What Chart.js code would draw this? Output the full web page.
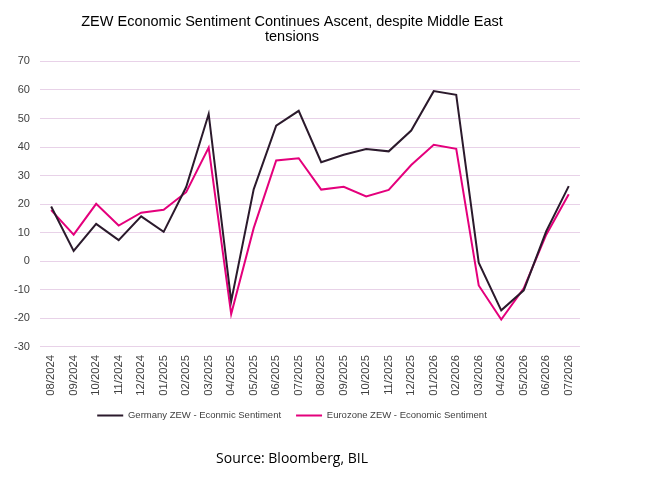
<!DOCTYPE html>
<html>
<head>
<meta charset="utf-8">
<script src="https://cdn.jsdelivr.net/npm/chart.js@4"></script>
<style>
  html, body { margin: 0; padding: 0; background: #fff; }
  #wrap { width: 647px; height: 492px; }
</style>
</head>
<body>
<div id="wrap"><canvas id="chart" width="647" height="492"></canvas></div>
<script>
// Monthly readings
const months = ['08/2024', '09/2024', '10/2024', '11/2024', '12/2024', '01/2025', '02/2025', '03/2025',
    '04/2025', '05/2025', '06/2025', '07/2025', '08/2025', '09/2025', '10/2025', '11/2025', '12/2025',
    '01/2026', '02/2026', '03/2026', '04/2026', '05/2026', '06/2026', '07/2026'];
const germany = [19.2, 3.6, 13.1, 7.4, 15.7, 10.3, 26.0, 51.6, -14.0, 25.2, 47.5, 52.7, 34.7, 37.3,
    39.3, 38.5, 45.8, 59.6, 58.3, -0.5, -17.2, -10.2, 10.5, 26.3];
const eurozone = [17.9, 9.3, 20.1, 12.5, 17.0, 18.0, 24.2, 39.8, -18.5, 11.6, 35.3, 36.1, 25.1, 26.1,
    22.7, 25.0, 33.7, 40.8, 39.4, -8.5, -20.4, -9.5, 9.3, 23.5];
const yTicks = [70, 60, 50, 40, 30, 20, 10, 0, -10, -20, -30];

const arial = "'Liberation Sans', Arial, sans-serif";

new Chart(document.getElementById('chart'), {
    type: 'line',
    data: {
        labels: months,
        datasets: [
            {
                label: 'Germany ZEW - Econmic Sentiment',
                data: germany,
                borderColor: '#2b1a2c',
                backgroundColor: '#2b1a2c',
                borderWidth: 2,
                pointRadius: 0,
                tension: 0
            },
            {
                label: 'Eurozone ZEW - Economic Sentiment',
                data: eurozone,
                borderColor: '#e4007c',
                backgroundColor: '#e4007c',
                borderWidth: 2,
                pointRadius: 0,
                tension: 0
            }
        ]
    },
    options: {
        responsive: false,
        animation: false,
        layout: { padding: { left: 4, right: 67, top: 4, bottom: 6 } },
        plugins: {
            title: {
                display: true,
                text: ['ZEW Economic Sentiment Continues Ascent, despite Middle East', 'tensions'],
                color: '#000',
                font: { family: arial, size: 14.5, weight: 'normal', lineHeight: 1.05 },
                padding: { top: 10, bottom: 17 }
            },
            legend: {
                position: 'bottom',
                labels: {
                    color: '#404040',
                    font: { family: arial, size: 9.5 },
                    usePointStyle: true,
                    pointStyle: 'line',
                    pointStyleWidth: 26,
                    padding: 15
                }
            },
            subtitle: {
                display: true,
                position: 'bottom',
                text: 'Source: Bloomberg, BIL',
                color: '#000',
                font: { family: "'Open Sans', 'Noto Sans', sans-serif", size: 14 },
                padding: { top: 20, bottom: 19 }
            },
            tooltip: { enabled: false }
        },
        scales: {
            x: {
                offset: true,
                grid: { display: false },
                border: { display: false },
                ticks: {
                    color: '#404040',
                    font: { family: arial, size: 11.3 },
                    maxRotation: 90,
                    minRotation: 90,
                    autoSkip: false,
                    padding: 0
                }
            },
            y: {
                min: -30,
                max: 70,
                afterBuildTicks: axis => { axis.ticks = yTicks.map(v => ({ value: v })); },
                grid: { color: '#e8d2e8', lineWidth: 1, drawTicks: false },
                border: { display: false },
                ticks: { color: '#404040', font: { family: arial, size: 11 }, padding: 10 }
            }
        }
    }
});
</script>
</body>
</html>
